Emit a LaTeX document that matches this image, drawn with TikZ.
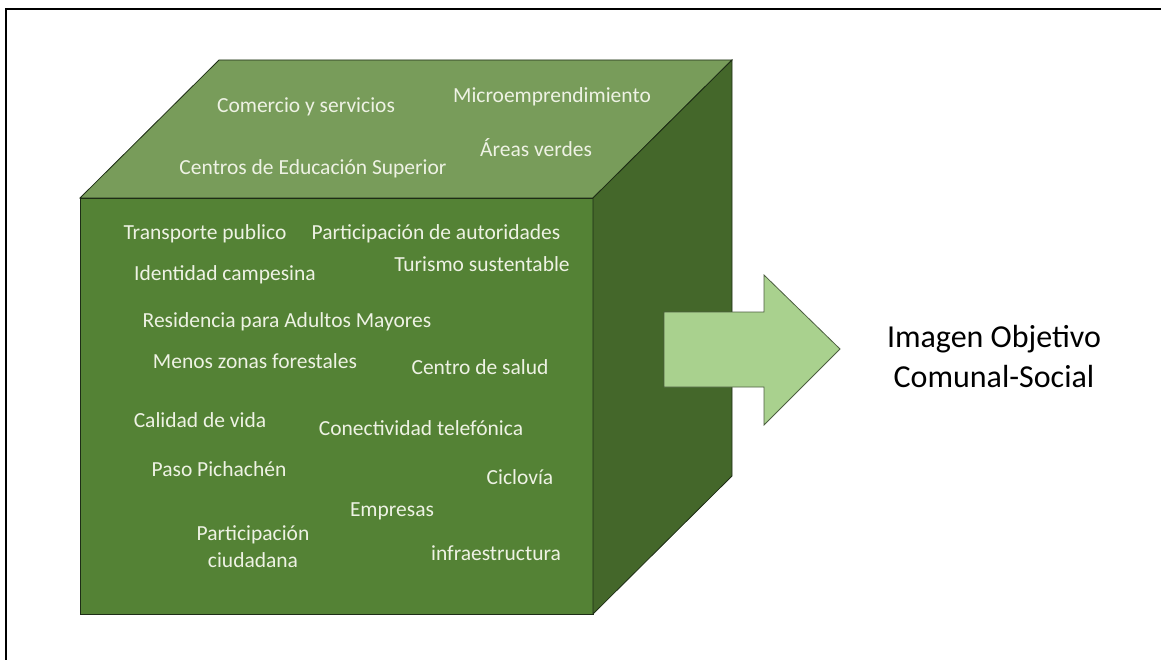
\documentclass[tikz,border=0pt]{standalone}
\usepackage{fontspec}
\setmainfont{Carlito}
\usetikzlibrary{positioning}
\definecolor{cFront}{RGB}{84,130,53}
\definecolor{cTop}  {RGB}{120,156,90}
\definecolor{cSide} {RGB}{68,103,42}
\definecolor{cArrow}{RGB}{169,209,142}
\definecolor{cText} {RGB}{238,242,228}
\definecolor{cEdge} {RGB}{30,45,22}

\begin{document}
\begin{tikzpicture}[x=1pt,y=-1pt]

%% ── shared styles ─────────────────────────────────────────────────────────
\tikzset{
  face/.style={fill=#1, draw=cEdge, line width=0.8pt, line join=miter},
  lbl/.style={
    font=\fontsize{21.5}{27}\selectfont, text=cText,
    anchor=base, inner sep=0pt, align=center
  },
  goal/.style={
    font=\fontsize{32}{40}\selectfont, text=black,
    anchor=base, inner sep=0pt, align=center
  },
  flow/.style={fill=cArrow, draw=cArrow!45!black, line width=0.8pt, line join=miter},
}

\useasboundingbox (0,0) rectangle (1161,660);

%% ── frame ─────────────────────────────────────────────────────────────────
\draw[line width=1.6pt] (6,660) -- (6,9) -- (1161,9);

%% ── cube corners ──────────────────────────────────────────────────────────
\def\xa{80}  \def\xb{593}  \def\dx{139}
\def\ya{198} \def\yb{614}  \def\dy{138}

\coordinate (FTL) at (\xa,\ya);
\coordinate (FTR) at (\xb,\ya);
\coordinate (FBL) at (\xa,\yb);
\coordinate (FBR) at (\xb,\yb);
\coordinate (BTL) at (\xa+\dx,\ya-\dy);
\coordinate (BTR) at (\xb+\dx,\ya-\dy);
\coordinate (BBR) at (\xb+\dx,\yb-\dy);

\filldraw[face=cFront] (FTL) -- (FTR) -- (FBR) -- (FBL) -- cycle;
\filldraw[face=cTop]   (FTL) -- (BTL) -- (BTR) -- (FTR) -- cycle;
\filldraw[face=cSide]  (FTR) -- (BTR) -- (BBR) -- (FBR) -- cycle;

%% ── top face labels ───────────────────────────────────────────────────────
\node[lbl] (comercio) at (306,113) {Comercio y servicios};
\node[lbl] (micro)    at (552,103) {Microemprendimiento};
\node[lbl] (centros)  at (313,175) {Centros de Educación Superior};
\node[lbl] (areas)    at (536,157) {Áreas verdes};

%% ── front face labels ─────────────────────────────────────────────────────
\node[lbl] (transp)   at (205,240) {Transporte publico};
\node[lbl] (partaut)  at (436,240) {Participación de autoridades};
\node[lbl] (ident)    at (225,280) {Identidad campesina};
\node[lbl] (turismo)  at (482,272) {Turismo sustentable};
\node[lbl] (resid)    at (287,327) {Residencia para Adultos Mayores};
\node[lbl] (menos)    at (255,368) {Menos zonas forestales};
\node[lbl] (salud)    at (480,374) {Centro de salud};
\node[lbl] (calidad)  at (200,427) {Calidad de vida};
\node[lbl] (conect)   at (421,435) {Conectividad telefónica};
\node[lbl] (paso)     at (219,476) {Paso Pichachén};
\node[lbl] (ciclo)    at (520,484) {Ciclovía};
\node[lbl] (empresas) at (392,516) {Empresas};
\node[lbl] (partciu)  at (253,567) {Participación\\ciudadana};
\node[lbl] (infra)    at (496,560) {infraestructura};

%% ── arrow and goal ────────────────────────────────────────────────────────
\filldraw[flow] (664,312) -- (764,312) -- (764,275) -- (840,349)
                -- (764,425) -- (764,387) -- (664,387) -- cycle;

\node[goal] (imagen) at (994,387) {Imagen Objetivo\\Comunal-Social};

\end{tikzpicture}
\end{document}
